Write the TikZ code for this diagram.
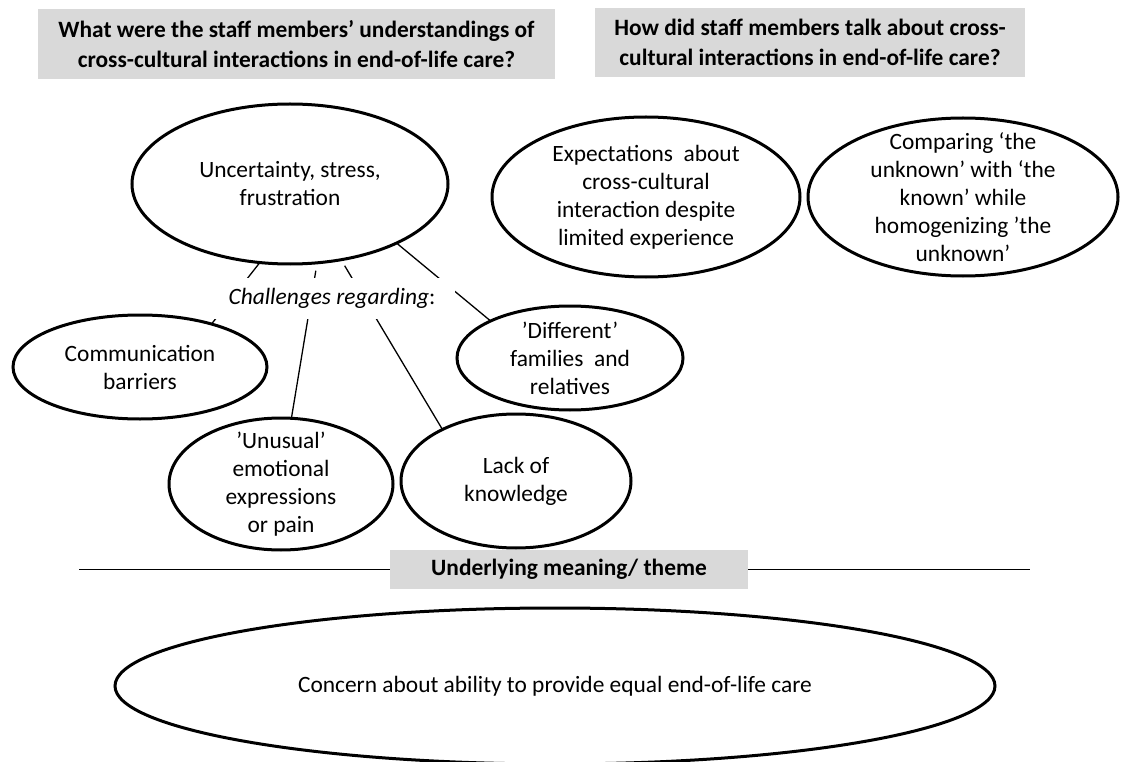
\documentclass[tikz,border=0pt]{standalone}
\usepackage{fontspec}
\setmainfont{Carlito}
\usetikzlibrary{shapes.geometric}
\definecolor{hdrgray}{HTML}{D9D9D9}
\begin{document}
\begin{tikzpicture}[x=1pt,y=-1pt,
  bub/.style={draw, ellipse, line width=3pt, inner sep=0pt, outer sep=0pt},
  hdr/.style={fill=hdrgray, inner sep=0pt, font=\bfseries\fontsize{23.4}{30}\selectfont, align=center},
  conn/.style={line width=1.3pt},
  txt/.style={font=\fontsize{23.4}{28}\selectfont, align=center}
]
\useasboundingbox (0,0) rectangle (1122,762);

% headers
\node[hdr, minimum width=517pt, minimum height=70pt] (h1) at (296.5,44)
  {What were the staff members’ understandings of\\cross-cultural interactions in end-of-life care?};
\node[hdr, minimum width=430pt, minimum height=69pt] (h2) at (810,42.5)
  {How did staff members talk about cross-\\cultural interactions in end-of-life care?};

% ellipses
\node[bub, minimum width=316pt, minimum height=160pt,
  label={[txt]center:{Uncertainty, stress,\\frustration}}] (top) at (290,184) {};
\node[bub, minimum width=308pt, minimum height=160pt,
  label={[txt]center:{Expectations\ \ about\\cross-cultural\\interaction despite\\limited experience}}] (expect) at (646,197) {};
\node[bub, minimum width=310pt, minimum height=158pt,
  label={[txt]center:{Comparing ‘the\\unknown’ with ‘the\\known’ while\\homogenizing ’the\\unknown’}}] (compare) at (963,197) {};
\node[bub, minimum width=254pt, minimum height=104pt,
  label={[txt]center:{Communication\\barriers}}] (comm) at (140,367) {};
\node[bub, minimum width=226pt, minimum height=104pt,
  label={[txt]center:{’Different’\\families\ \ and\\relatives}}] (diff) at (570,358) {};
\node[bub, minimum width=224pt, minimum height=132pt,
  label={[txt]center:{’Unusual’\\emotional\\expressions\\or pain}}] (unus) at (281,484) {};
\node[bub, minimum width=230pt, minimum height=134pt,
  label={[txt]center:{Lack of\\knowledge}}] (lack) at (516,481) {};
\node[bub, minimum width=880pt, minimum height=156pt,
  label={[txt]center:{Concern about ability to provide equal end-of-life care}}] (concern) at (555,686) {};

% connectors
\draw[conn] (comm.31) -- (top.249);
\draw[conn, shorten >=8pt] (unus.81) -- (top.289);
\draw[conn, shorten >=7pt] (lack.145) -- (top.304);
\draw[conn] (top.331) -- (diff.155);

% challenges label over the lines
\node[txt, fill=white, inner sep=0pt, minimum width=245pt, minimum height=41pt] (chal) at (332,298.5)
  {\textit{Challenges regarding}:};

% underlying theme
\node[hdr, minimum width=358pt, minimum height=39pt] (under) at (569,569.5) {Underlying meaning/ theme};
\coordinate (hl) at (79,569.5);
\coordinate (hr) at (1030,569.5);
\draw[conn] (hl) -- (under.west);
\draw[conn] (under.east) -- (hr);
\end{tikzpicture}
\end{document}
